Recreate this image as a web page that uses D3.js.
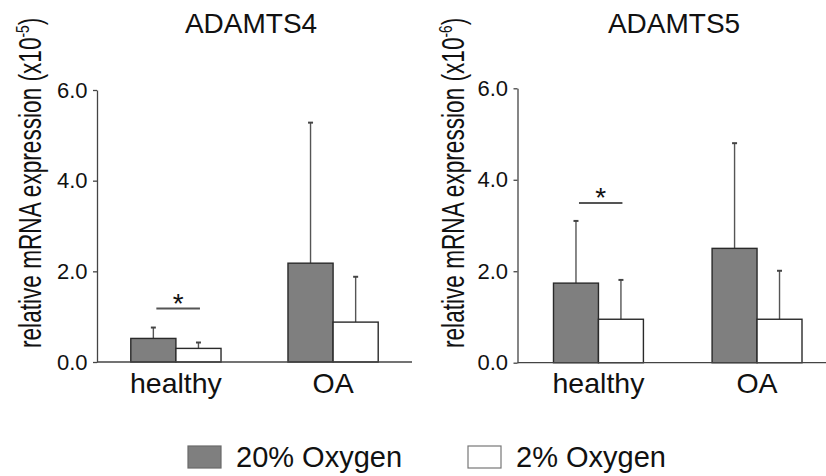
<!DOCTYPE html>
<html>
<head>
<meta charset="utf-8">
<title>ADAMTS4 / ADAMTS5</title>
<script src="https://d3js.org/d3.v7.min.js"></script>
<style>
  body { margin: 0; background: #fff; }
  text { font-family: "Liberation Sans", Arial, sans-serif; fill: #111; }
</style>
</head>
<body>
<svg width="826" height="476"></svg>
<script>
// data
var categories = ["healthy", "OA"];
var seriesNames = ["20% Oxygen", "2% Oxygen"];
var titles = ["ADAMTS4", "ADAMTS5"];
var exponents = ["-5", "-6"];
var yTicks = [0, 2, 4, 6];

// means, [healthy, OA], per series
var adamts4Mean20 = [0.52, 2.18];
var adamts4Mean2  = [0.30, 0.88];
var adamts4Err20  = [0.24, 3.10];
var adamts4Err2   = [0.13, 1.00];

var adamts5Mean20 = [1.74, 2.50];
var adamts5Mean2  = [0.95, 0.95];
var adamts5Err20  = [1.36, 2.30];
var adamts5Err2   = [0.86, 1.06];

var sigLevel = [1.18, 3.49];   // height of the "*" bar over healthy

var svg = d3.select("svg");
var colors = ["#7f7f7f", "#ffffff"];

var panels = [
  { title: titles[0], exp: exponents[0], means: [adamts4Mean20, adamts4Mean2], errs: [adamts4Err20, adamts4Err2],
    sig: sigLevel[0], axisX: 97, xr: [97, 412], pIn: 0.426, pOut: 0.215, y0: 362, y1: 90,
    titleX: 251, labelX: 41 },
  { title: titles[1], exp: exponents[1], means: [adamts5Mean20, adamts5Mean2], errs: [adamts5Err20, adamts5Err2],
    sig: sigLevel[1], axisX: 517.5, xr: [517.5, 838], pIn: 0.433, pOut: 0.227, y0: 362.7, y1: 88.3,
    titleX: 674, labelX: 464 }
];

panels.forEach(function (p) {
  var g = svg.append("g");

  var x = d3.scaleBand().domain(categories).range(p.xr)
      .paddingInner(p.pIn).paddingOuter(p.pOut);
  var xs = d3.scaleBand().domain([0, 1]).range([0, x.bandwidth()]);
  var y = d3.scaleLinear().domain([0, 6]).range([p.y0, p.y1]);

  // title
  g.append("text")
    .attr("x", p.titleX).attr("y", 33)
    .attr("text-anchor", "middle")
    .style("font-size", "28px")
    .text(p.title);

  // y label (the original font is narrow, so squeeze it along its length)
  var lab = g.append("text")
    .attr("transform", "translate(" + p.labelX + ",348) rotate(-90) scale(0.73,1)")
    .style("font-size", "31px");
  lab.append("tspan").text("relative mRNA expression (x10");
  lab.append("tspan").attr("dy", -12).style("font-size", "19px").text(p.exp);
  lab.append("tspan").attr("dy", 12).text(")");

  // bars
  var rows = [];
  categories.forEach(function (c, i) {
    [0, 1].forEach(function (s) {
      rows.push({ cat: c, s: s, v: p.means[s][i], e: p.errs[s][i] });
    });
  });

  var cx = function (d) { return x(d.cat) + xs(d.s) + xs.bandwidth() / 2; };

  // error bars (drawn under the bars)
  g.selectAll(".err").data(rows).enter().append("line")
    .attr("x1", cx).attr("x2", cx)
    .attr("y1", function (d) { return y(d.v); })
    .attr("y2", function (d) { return y(d.v + d.e); })
    .attr("stroke", "#555").attr("stroke-width", 1.4);
  g.selectAll(".cap").data(rows).enter().append("line")
    .attr("x1", function (d) { return cx(d) - 2.5; })
    .attr("x2", function (d) { return cx(d) + 2.5; })
    .attr("y1", function (d) { return y(d.v + d.e); })
    .attr("y2", function (d) { return y(d.v + d.e); })
    .attr("stroke", "#444").attr("stroke-width", 2);

  g.selectAll(".bar").data(rows).enter().append("rect")
    .attr("x", function (d) { return x(d.cat) + xs(d.s); })
    .attr("width", xs.bandwidth())
    .attr("y", function (d) { return y(d.v); })
    .attr("height", function (d) { return y(0) - y(d.v); })
    .attr("fill", function (d) { return colors[d.s]; })
    .attr("stroke", "#2a2a2a").attr("stroke-width", 1.4);

  // significance bar
  var h = categories[0];
  var sx1 = x(h) + xs(0) + xs.bandwidth() / 2 + 3;
  var sx2 = x(h) + xs(1) + xs.bandwidth() / 2 + 1.5;
  g.append("line")
    .attr("x1", sx1).attr("x2", sx2)
    .attr("y1", y(p.sig)).attr("y2", y(p.sig))
    .attr("stroke", "#555").attr("stroke-width", 2);
  g.append("text")
    .attr("x", (sx1 + sx2) / 2).attr("y", y(p.sig) + 4)
    .attr("text-anchor", "middle")
    .style("font-size", "28px")
    .text("*");

  // y axis
  var ya = g.append("g")
    .attr("transform", "translate(" + p.axisX + ",0)")
    .call(d3.axisLeft(y).tickValues(yTicks).tickFormat(d3.format(".1f"))
      .tickSize(4).tickSizeOuter(0).tickPadding(5.5));
  ya.select(".domain").attr("stroke", "#444").attr("stroke-width", 1.3);
  ya.selectAll(".tick line").attr("stroke", "#444").attr("stroke-width", 1.3);
  ya.selectAll(".tick text").style("font-size", "22px").attr("fill", "#111")
    .attr("font-family", null);

  // x axis
  var xa = g.append("g")
    .attr("transform", "translate(0," + y(0) + ")")
    .call(d3.axisBottom(x).tickSize(0).tickPadding(10));
  xa.select(".domain").attr("stroke", "#444").attr("stroke-width", 1.3)
    .attr("d", "M" + p.axisX + ",0H" + Math.min(p.xr[1], 826));
  xa.selectAll(".tick text").style("font-size", "28.5px").attr("fill", "#111")
    .attr("font-family", null).attr("dy", "0.72em");
});

// legend
var legend = svg.append("g");
var legX = [188, 468];
seriesNames.forEach(function (name, i) {
  legend.append("rect")
    .attr("x", legX[i]).attr("y", 446)
    .attr("width", 33).attr("height", 22)
    .attr("fill", colors[i])
    .attr("stroke", i === 0 ? "#6a6a6a" : "#777").attr("stroke-width", 1.2);
  legend.append("text")
    .attr("x", legX[i] + 48).attr("y", 467)
    .style("font-size", "29px")
    .text(name);
});
</script>
</body>
</html>
